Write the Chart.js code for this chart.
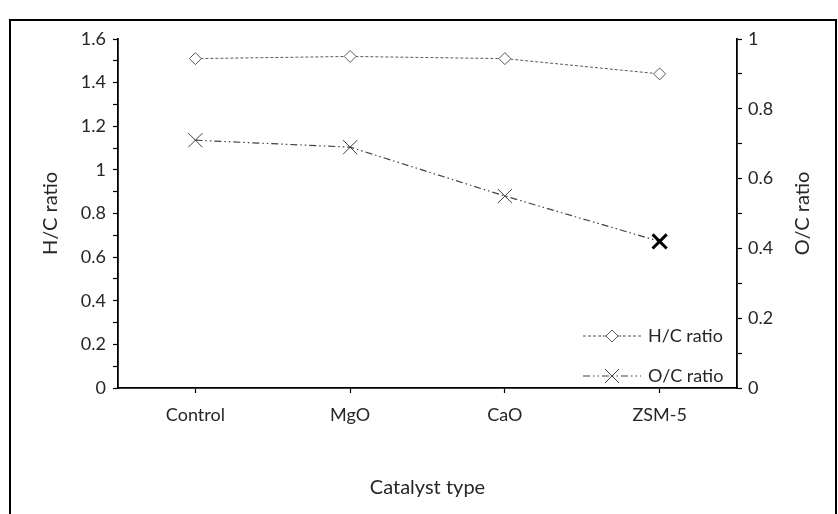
<!DOCTYPE html>
<html>
<head>
<meta charset="utf-8">
<title>H/C and O/C ratio by catalyst</title>
<script src="https://cdn.jsdelivr.net/npm/chart.js"></script>
<style>
  html, body { margin: 0; padding: 0; background: #fff; }
  #wrap { width: 838px; height: 514px; position: relative; }
</style>
</head>
<body>
<div id="wrap"><canvas id="ratios"></canvas></div>
<script>
"use strict";

// data
var catalysts = ["Control", "MgO", "CaO", "ZSM-5"];
var hcRatio = [1.51, 1.52, 1.51, 1.44];
var ocRatio = [0.71, 0.69, 0.55, 0.42];
var hcTicks = [0, 1.6, 0.1];   // min, max, step (labels every 0.2)
var ocTicks = [0, 1, 0.1];

var FONT = "Lato, 'Open Sans', sans-serif";
var INK = "#262626";

// every other minor step gets a label
function everyOther(value) {
    var n = Math.round(value * 10);
    return n % 2 === 0 ? String(n / 10) : "";
}

// outer frame, axis titles and the legend in the lower right
var decorations = {
    id: "decorations",
    afterDraw: function (chart) {
        var c = chart.ctx;
        var area = chart.chartArea;
        c.save();

        c.strokeStyle = "#000";
        c.lineWidth = 2;
        c.strokeRect(10, 20, 826, 520);

        c.fillStyle = INK;
        c.font = "20px " + FONT;
        c.textAlign = "center";
        c.textBaseline = "middle";
        c.fillText("Catalyst type", (area.left + area.right) / 2, 488);

        c.save();
        c.translate(51, (area.top + area.bottom) / 2);
        c.rotate(-Math.PI / 2);
        c.fillText("H/C ratio", 0, 0);
        c.restore();

        c.save();
        c.translate(803, (area.top + area.bottom) / 2);
        c.rotate(-Math.PI / 2);
        c.fillText("O/C ratio", 0, 0);
        c.restore();

        // legend
        var rows = [
            { ds: chart.data.datasets[0], y: 336 },
            { ds: chart.data.datasets[1], y: 376 }
        ];
        rows.forEach(function (r) {
            c.save();
            c.strokeStyle = r.ds.borderColor;
            c.lineWidth = r.ds.borderWidth;
            c.setLineDash(r.ds.borderDash);
            c.beginPath();
            c.moveTo(583, r.y);
            c.lineTo(641, r.y);
            c.stroke();
            c.setLineDash([]);
            var mx = 612;
            var rad = r.ds.pointRadius;
            c.lineWidth = 1;
            c.strokeStyle = r.ds.pointBorderColor[0] || r.ds.pointBorderColor;
            c.beginPath();
            if (r.ds.pointStyle === "rectRot") {
                c.moveTo(mx - rad, r.y);
                c.lineTo(mx, r.y - rad);
                c.lineTo(mx + rad, r.y);
                c.lineTo(mx, r.y + rad);
                c.closePath();
                c.fillStyle = "#fff";
                c.fill();
            } else {
                var o = rad * Math.SQRT1_2;
                c.moveTo(mx - o, r.y - o);
                c.lineTo(mx + o, r.y + o);
                c.moveTo(mx + o, r.y - o);
                c.lineTo(mx - o, r.y + o);
            }
            c.stroke();
            c.restore();

            c.fillStyle = INK;
            c.font = "18px " + FONT;
            c.textAlign = "left";
            c.textBaseline = "middle";
            c.fillText(r.ds.label, 648, r.y);
        });

        c.restore();
    }
};

var axisGrid = {
    drawOnChartArea: false,
    drawTicks: true,
    tickLength: 5,
    tickColor: "#000",
    tickWidth: 1.2
};

var tickFont = { family: FONT, size: 18 };

new Chart(document.getElementById("ratios"), {
    type: "line",
    data: {
        labels: catalysts,
        datasets: [{
            label: "H/C ratio",
            data: hcRatio,
            yAxisID: "y",
            borderColor: "#595959",
            borderWidth: 1,
            borderDash: [3, 2],
            tension: 0,
            pointStyle: "rectRot",
            pointRadius: 6,
            pointBackgroundColor: "#fff",
            pointBorderColor: "#595959",
            pointBorderWidth: 1
        }, {
            label: "O/C ratio",
            data: ocRatio,
            yAxisID: "y2",
            borderColor: "#404040",
            borderWidth: 1.2,
            borderDash: [7, 3, 1.5, 3, 1.5, 3],
            tension: 0,
            pointStyle: "crossRot",
            pointRadius: 10,
            pointBorderColor: ["#404040", "#404040", "#404040", "#000"],
            pointBorderWidth: [1, 1, 1, 3]
        }]
    },
    options: {
        responsive: true,
        maintainAspectRatio: false,
        animation: false,
        devicePixelRatio: 1,
        layout: { padding: { top: 39, left: 12, right: 2, bottom: 0 } },
        plugins: {
            legend: { display: false },
            tooltip: { enabled: false }
        },
        scales: {
            x: {
                type: "category",
                offset: true,
                grid: Object.assign({}, axisGrid, { offset: false }),
                border: { display: true, color: "#000", width: 1.8 },
                ticks: { color: INK, font: tickFont, padding: 11, maxRotation: 0 },
                afterFit: function (s) { s.height = 126; }
            },
            y: {
                position: "left",
                min: hcTicks[0],
                max: hcTicks[1],
                grid: axisGrid,
                border: { display: true, color: "#000", width: 1.8 },
                ticks: {
                    stepSize: hcTicks[2],
                    autoSkip: false,
                    color: INK,
                    font: tickFont,
                    padding: 7,
                    callback: everyOther
                },
                afterFit: function (s) { s.width = 106; }
            },
            y2: {
                position: "right",
                min: ocTicks[0],
                max: ocTicks[1],
                grid: axisGrid,
                border: { display: true, color: "#000", width: 1.8 },
                ticks: {
                    stepSize: ocTicks[2],
                    autoSkip: false,
                    color: INK,
                    font: tickFont,
                    padding: 6,
                    callback: everyOther
                },
                afterFit: function (s) { s.width = 99; }
            }
        }
    },
    plugins: [decorations]
});
</script>
</body>
</html>
